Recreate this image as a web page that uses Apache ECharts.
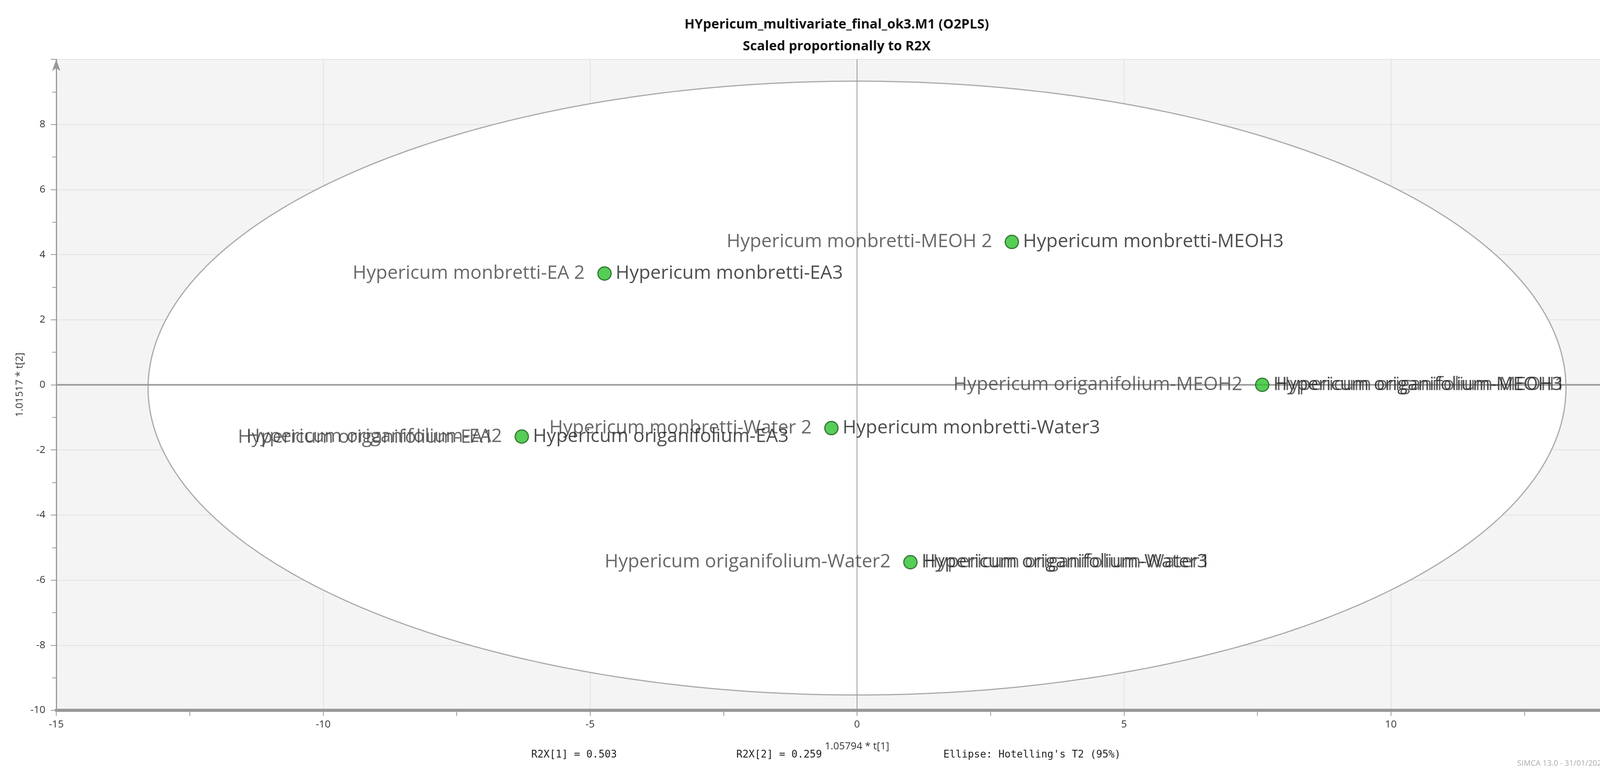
<!DOCTYPE html>
<html><head><meta charset="utf-8">
<script src="https://cdn.jsdelivr.net/npm/echarts@6/dist/echarts.min.js"></script>
<style>html,body{margin:0;padding:0;background:#fff}#c{width:4284px;height:1977px}</style>
</head><body><div id="c"></div>
<script>
const pointX = [2.9, -4.73, 7.59, -0.48, -6.28, 1.0];
const pointY = [4.39, 3.42, 0.0, -1.33, -1.59, -5.45];
const labels3 = ['Hypericum monbretti-MEOH3','Hypericum monbretti-EA3','Hypericum origanifolium-MEOH3','Hypericum monbretti-Water3','Hypericum origanifolium-EA3','Hypericum origanifolium-Water3'];
const labels2 = ['Hypericum monbretti-MEOH 2','Hypericum monbretti-EA 2','Hypericum origanifolium-MEOH2','Hypericum monbretti-Water 2','Hypericum origanifolium-EA2','Hypericum origanifolium-Water2'];
const labels1 = ['Hypericum monbretti-MEOH1','Hypericum monbretti-EA1','Hypericum origanifolium-MEOH1','Hypericum monbretti-Water1','Hypericum origanifolium-EA1','Hypericum origanifolium-Water1'];
const rep1X = [2.9, -4.73, 7.64, -0.48, -6.6, 1.05];
const rep1Y = [4.39, 3.42, 0.0, -1.33, -1.62, -5.45];
const rep1Show = [false, false, true, false, true, true];
const ellipse = [0, -0.1, 13.28, 9.43];
const xTicks = [-15, -10, -5, 0, 5, 10, 15];
const yTicks = [-10, -8, -6, -4, -2, 0, 2, 4, 6, 8, 10];

const chart = echarts.init(document.getElementById('c'));
const F = 'Open Sans, Noto Sans, sans-serif';
const rep1Data = [];
rep1X.forEach((x, i) => { if (rep1Show[i]) rep1Data.push({value: [x, rep1Y[i]], name: labels1[i], label: {position: i === 4 ? 'left' : 'right'}}); });
chart.setOption({
  backgroundColor: '#fff',
  animation: false,
  title: {
    text: 'HYpericum_multivariate_final_ok3.M1 (O2PLS)\nScaled proportionally to R2X',
    left: 'center', top: 30,
    textStyle: {fontSize: 34, fontWeight: 'bold', color: '#111', fontFamily: F, lineHeight: 56}
  },
  grid: {left: 144, right: 40, top: 152, bottom: 158, show: true, backgroundColor: '#f4f4f4', borderWidth: 0},
  xAxis: {
    type: 'value', min: -15, max: 15, interval: 5,
    name: '1.05794 * t[1]', nameLocation: 'middle', nameGap: 80,
    nameTextStyle: {fontSize: 26, color: '#333', fontFamily: F},
    axisLine: {show: true, onZero: false, lineStyle: {color: '#999', width: 8}, symbol: ['none', 'arrow'], symbolSize: [24, 36]},
    axisTick: {show: true, length: 14, lineStyle: {color: '#999', width: 2}},
    minorTick: {show: true, splitNumber: 2, length: 14, lineStyle: {color: '#999', width: 2}},
    axisLabel: {fontSize: 26, color: '#333', fontFamily: F, margin: 24, formatter: v => xTicks.includes(v) && v !== 15 ? String(v) : ''},
    splitLine: {show: true, lineStyle: {color: '#e2e2e2', width: 2}}
  },
  yAxis: {
    type: 'value', min: -10, max: 10, interval: 2,
    name: '1.01517 * t[2]', nameLocation: 'middle', nameGap: 80,
    nameTextStyle: {fontSize: 26, color: '#333', fontFamily: F},
    axisLine: {show: true, onZero: false, lineStyle: {color: '#999', width: 3}, symbol: ['none', 'arrow'], symbolSize: [16, 30]},
    axisTick: {show: true, length: 14, lineStyle: {color: '#999', width: 2}},
    minorTick: {show: true, splitNumber: 2, length: 10, lineStyle: {color: '#999', width: 2}},
    axisLabel: {fontSize: 26, color: '#333', fontFamily: F, margin: 28, formatter: v => (yTicks.includes(v) && v !== 10 ? String(v) : '')},
    splitLine: {show: true, lineStyle: {color: '#e2e2e2', width: 2}}
  },
  graphic: [
    {type: 'text', left: 1360, top: 1920, style: {text: 'R2X[1] = 0.503', font: '26px "DejaVu Sans Mono", monospace', fill: '#222'}},
    {type: 'text', left: 1885, top: 1920, style: {text: 'R2X[2] = 0.259', font: '26px "DejaVu Sans Mono", monospace', fill: '#222'}},
    {type: 'text', left: 2415, top: 1920, style: {text: "Ellipse: Hotelling's T2 (95%)", font: '26px "DejaVu Sans Mono", monospace', fill: '#222'}},
    {type: 'text', right: 10, top: 1945, style: {text: 'SIMCA 13.0 - 31/01/2023 11:05:20 (UTC+1)', font: '20px "Open Sans", sans-serif', fill: '#aaa'}}
  ],
  series: [
    {
      type: 'custom', silent: true, z: 1,
      data: [ellipse],
      renderItem: function (params, api) {
        const cx = api.value(0), cy = api.value(1), a = api.value(2), b = api.value(3);
        const pts = [];
        for (let i = 0; i < 360; i++) {
          const t = i * Math.PI / 180;
          pts.push(api.coord([cx + a * Math.cos(t), cy + b * Math.sin(t)]));
        }
        return {type: 'polygon', shape: {points: pts}, style: {fill: '#fff', stroke: '#aaa', lineWidth: 3}};
      }
    },
    {
      type: 'line', data: [[0, -10], [0, 10]], symbol: 'none', silent: true, z: 2,
      lineStyle: {color: '#999', width: 2}
    },
    {
      type: 'line', data: [[-15, 0], [15, 0]], symbol: 'none', silent: true, z: 2,
      lineStyle: {color: '#999', width: 4}
    },
    {
      type: 'scatter', z: 3, symbolSize: 1, itemStyle: {color: 'rgba(0,0,0,0)'},
      data: rep1Data,
      label: {show: true, distance: 28, formatter: p => p.name, fontSize: 48, color: '#444', fontFamily: F}
    },
    {
      type: 'scatter', z: 4, symbolSize: 1, itemStyle: {color: 'rgba(0,0,0,0)'},
      data: pointX.map((x, i) => [x, pointY[i]]),
      label: {show: true, position: 'left', distance: 50, formatter: p => labels2[p.dataIndex], fontSize: 48, color: '#444', fontFamily: F}
    },
    {
      type: 'scatter', z: 5, symbol: 'circle', symbolSize: 34,
      itemStyle: {color: '#2cc12c', borderColor: '#1a5e1a', borderWidth: 3},
      data: pointX.map((x, i) => [x, pointY[i]]),
      label: {show: true, position: 'right', distance: 10, formatter: p => labels3[p.dataIndex], fontSize: 48, color: '#222', fontFamily: F}
    }
  ]
});
</script></body></html>
